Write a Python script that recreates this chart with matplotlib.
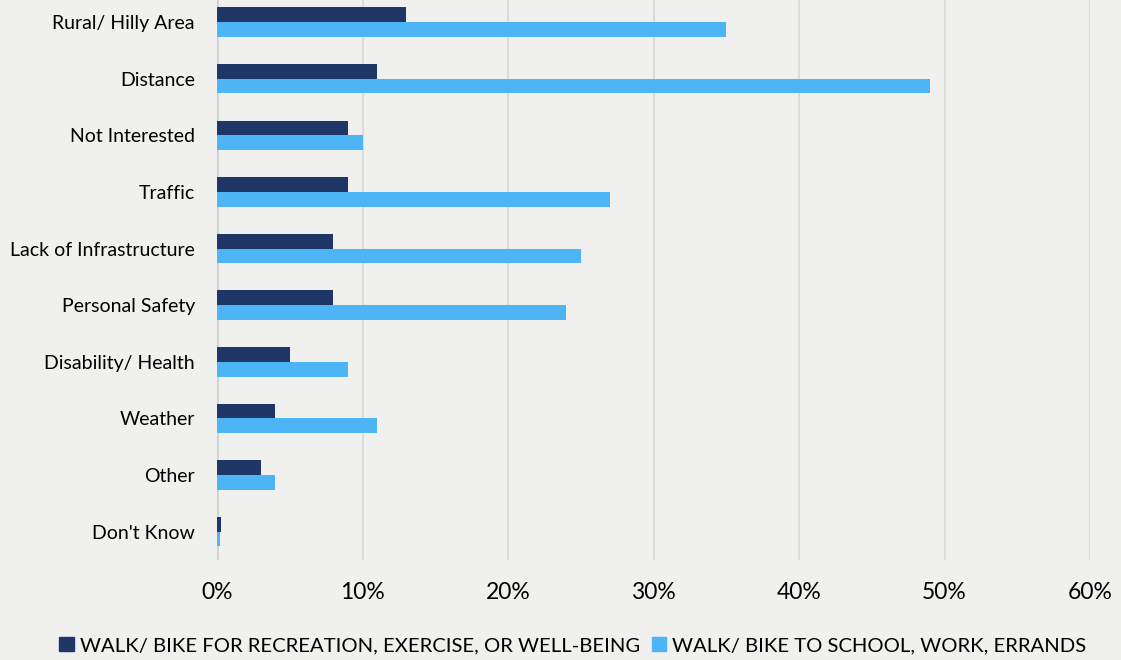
import numpy as np
import matplotlib.pyplot as plt
from matplotlib.patches import Patch

categories = ['Rural/ Hilly Area', 'Distance', 'Not Interested', 'Traffic',
              'Lack of Infrastructure', 'Personal Safety', 'Disability/ Health',
              'Weather', 'Other', "Don't Know"]
recreation = [13, 11, 9, 9, 8, 8, 5, 4, 3, 0.3]
school_work = [35, 49, 10, 27, 25, 24, 9, 11, 4, 0.2]
series_names = ['WALK/ BIKE FOR RECREATION, EXERCISE, OR WELL-BEING',
                'WALK/ BIKE TO SCHOOL, WORK, ERRANDS']
xticks = [0, 10, 20, 30, 40, 50, 60]

bg = '#f0f0ee'
dark = '#1f3766'
light = '#4db5f5'

plt.rcParams['font.family'] = ['Lato', 'DejaVu Sans']

fig = plt.figure(figsize=(11.21, 6.6), dpi=100, facecolor=bg)
ax = fig.add_axes([217 / 1121, 100 / 660, (1090 - 217) / 1121, 560 / 660])
ax.set_facecolor(bg)

y = np.arange(len(categories))
h = 0.26
ax.barh(y - h / 2, recreation, height=h, color=dark, zorder=3)
ax.barh(y + h / 2, school_work, height=h, color=light, zorder=3)

ax.set_xlim(0, 60)
ax.set_ylim(9.5, -0.39)
ax.set_xticks(xticks)
ax.set_xticklabels([f'{t}%' for t in xticks], fontsize=16.5)
ax.set_yticks(y)
ax.set_yticklabels(categories, fontsize=14)
ax.tick_params(length=0)
ax.tick_params(axis='x', pad=16)
ax.tick_params(axis='y', pad=16)
for s in ax.spines.values():
    s.set_visible(False)
ax.grid(axis='x', color='#dcdcdc', linewidth=1.5, zorder=0)
ax.axvline(0, color='#d0d0d0', linewidth=2, zorder=2)

handles = [Patch(color=dark), Patch(color=light)]
fig.legend(handles, series_names, loc='center', bbox_to_anchor=(0.511, 0.022),
           ncol=2, frameon=False, fontsize=14.6, handlelength=0.7,
           handleheight=0.7, handletextpad=0.3, columnspacing=0.6)

fig.savefig('out.png', dpi=100, facecolor=bg)
